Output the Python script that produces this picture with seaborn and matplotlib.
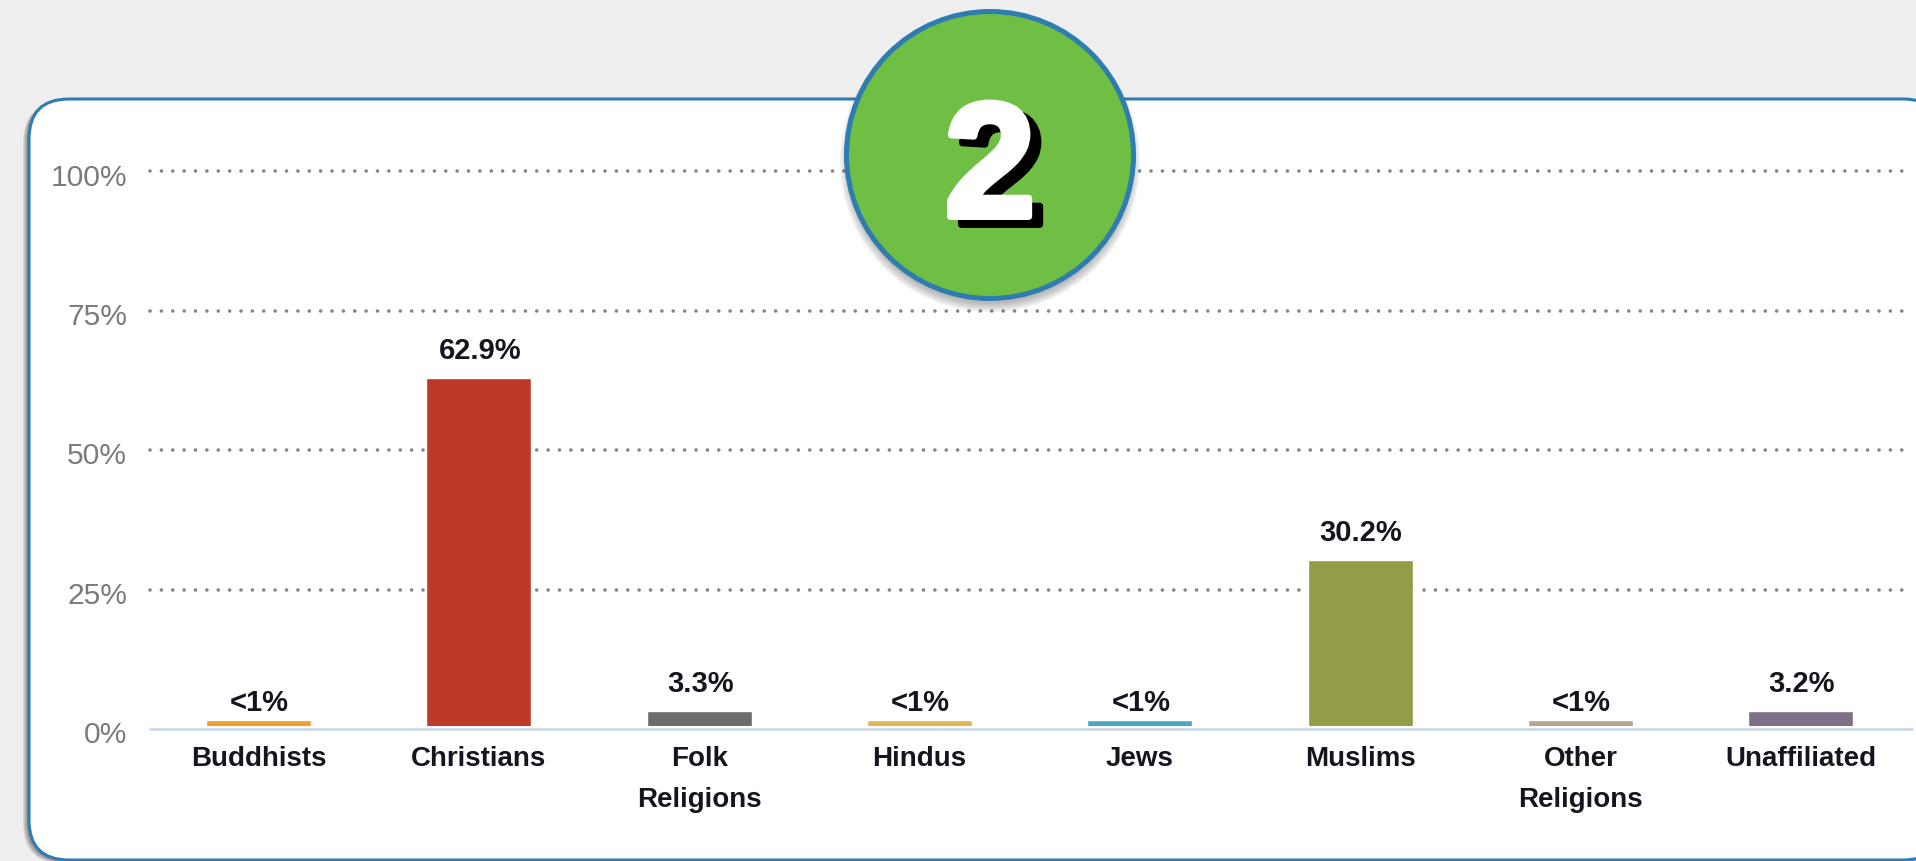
import numpy as np
import seaborn as sns
import matplotlib.pyplot as plt
import matplotlib.patheffects as pe
from matplotlib.patches import FancyBboxPatch, Circle
from matplotlib.transforms import ScaledTranslation

categories = ['Buddhists', 'Christians', 'Folk\nReligions', 'Hindus', 'Jews',
              'Muslims', 'Other\nReligions', 'Unaffiliated']
values = [1.6, 62.9, 3.3, 1.6, 1.6, 30.2, 1.6, 3.2]
value_labels = ['<1%', '62.9%', '3.3%', '<1%', '<1%', '30.2%', '<1%', '3.2%']
bar_colors = ['#EFA02F', '#BC3A26', '#6D6D6D', '#E0B558', '#4FA6C0', '#949C48', '#B5A68F', '#7F6F87']
y_ticks = [0, 25, 50, 75, 100]
y_tick_labels = ['0%', '25%', '50%', '75%', '100%']

W, H = 1916, 862
BLUE = '#2E7CB0'

sns.set_theme(style='white')
plt.rcParams['font.family'] = ['Liberation Sans', 'DejaVu Sans']

fig = plt.figure(figsize=(W / 100, H / 100), dpi=100, facecolor='#EEEEEE')


def px_axes(left, top, right, bottom, **kw):
    return fig.add_axes([left / W, 1 - bottom / H, (right - left) / W, (bottom - top) / H], **kw)


# card behind the chart
back = px_axes(0, 0, W, H, zorder=-1)
back.set_xlim(0, W)
back.set_ylim(H, 0)
back.axis('off')
card_box = 'round,pad=0,rounding_size=40'
for i in range(6):
    back.add_patch(FancyBboxPatch((29 - 1 - i, 100 + 1 + i / 2), 1914, 761, boxstyle=card_box,
                                  fc='black', ec='none', alpha=0.09))
back.add_patch(FancyBboxPatch((29, 100), 1914, 761, boxstyle=card_box, fc='white', ec=BLUE, lw=2.2))

# chart
ax = px_axes(150, 172, 1912, 730, zorder=1)
ax.patch.set_alpha(0)
for y in y_ticks[1:]:
    ax.axhline(y, xmin=0, xmax=0.9945, color='#858585', lw=2.6, ls=(0, (0.01, 3.14)),
               dash_capstyle='round', zorder=0, clip_on=False)
sns.barplot(x=categories, y=values, hue=categories, palette=bar_colors, width=0.477,
            saturation=1, legend=False, ax=ax, zorder=2)
ax.axhline(0, color='white', lw=4.3, zorder=3, clip_on=False)
ax.axhline(0, color='#C9D7E6', lw=1.9, zorder=4, clip_on=False)
ax.set_xlim(-0.4925, 7.505)
ax.set_ylim(0, 100)
ax.set_xlabel('')
ax.set_ylabel('')
sns.despine(ax=ax, left=True, bottom=True, top=True, right=True)
ax.tick_params(axis='both', length=0)
ax.tick_params(axis='x', pad=11.5)
ax.tick_params(axis='y', pad=16.5)
ax.set_yticks(y_ticks)
ax.set_yticklabels(y_tick_labels, fontsize=21.6, color='#7A7A7A')
for lab in ax.get_yticklabels():
    lab.set_transform(lab.get_transform() + ScaledTranslation(0, -2.5 / 100, fig.dpi_scale_trans))
for lab in ax.get_xticklabels():
    lab.set_fontsize(20)
    lab.set_fontweight('bold')
    lab.set_color('#15151F')
    lab.set_linespacing(1.76)

for i, (v, txt) in enumerate(zip(values, value_labels)):
    gap = 10 if txt.startswith('<') else 20
    ax.annotate(txt, (i, v), xytext=(0.7, gap * 0.72), textcoords='offset points', ha='center',
                va='baseline', fontsize=21, fontweight='bold', color='#15151F', zorder=5)

# badge on top
top = px_axes(0, 0, W, H, zorder=2)
top.set_xlim(0, W)
top.set_ylim(H, 0)
top.axis('off')
top.patch.set_alpha(0)
for r in np.arange(152, 142, -2):
    top.add_patch(Circle((990, 163), r - 2, fc='black', ec='none', alpha=0.06))
top.add_patch(Circle((990, 156), 143.5, fc='#6FBF44', ec=BLUE, lw=3.6))
top.text(990 + 11, 175 + 8, '2', fontsize=117, fontweight='bold', ha='center', va='center', color='black',
         path_effects=[pe.withStroke(linewidth=5, foreground='black')])
top.text(990, 175, '2', fontsize=117, fontweight='bold', ha='center', va='center', color='white',
         path_effects=[pe.withStroke(linewidth=5, foreground='white')])

fig.savefig('out.png', dpi=100, facecolor=fig.get_facecolor())
